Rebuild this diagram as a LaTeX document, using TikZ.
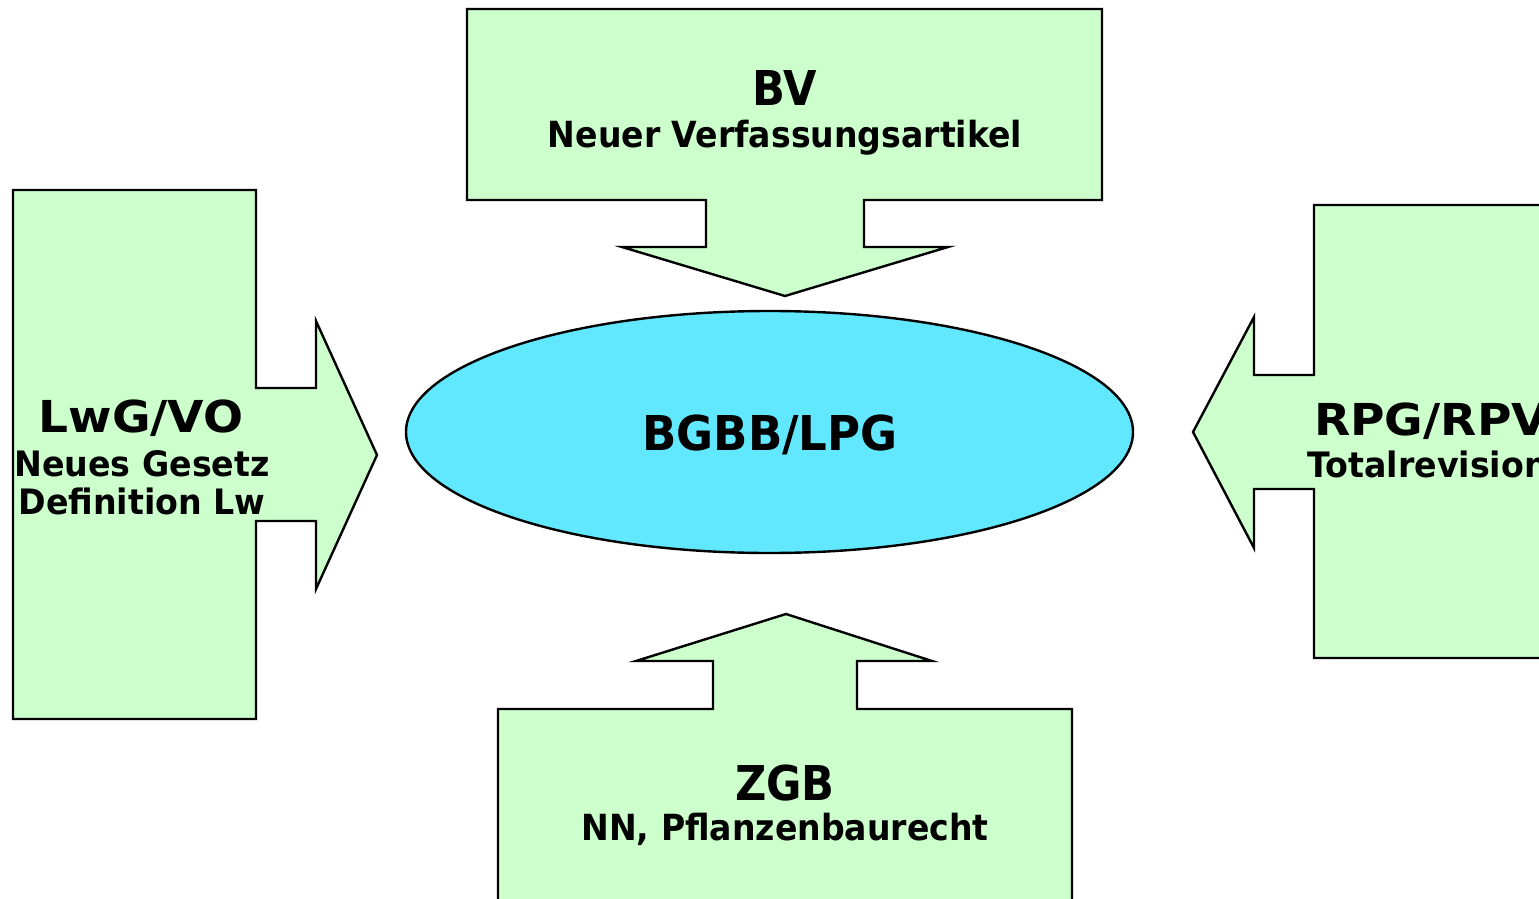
\documentclass[tikz,border=0pt]{standalone}
\usepackage{fontspec}
\setmainfont{DejaVu Sans}
\definecolor{callgreen}{HTML}{CCFFCC}
\definecolor{ellcyan}{HTML}{61E8FF}
\begin{document}
\begin{tikzpicture}[x=1pt,y=-1pt,
  callout/.style={draw=black,fill=callgreen,line width=2.4pt,line join=miter},
  lbl/.style={inner sep=0pt,anchor=base,font=\bfseries}]
\useasboundingbox (0,0) rectangle (1539,899);
% top callout
\draw[callout] (467,9) -- (1102,9) -- (1102,200) -- (864,200) -- (864,247) -- (948,247)
  -- (785,296) -- (622,247) -- (706,247) -- (706,200) -- (467,200) -- cycle;
% left callout
\draw[callout] (13,190) -- (256,190) -- (256,388) -- (316,388) -- (316,321) -- (377,455)
  -- (316,589) -- (316,521) -- (256,521) -- (256,719) -- (13,719) -- cycle;
% right callout
\draw[callout] (1600,205) -- (1314,205) -- (1314,375) -- (1254,375) -- (1254,317) -- (1193,432)
  -- (1254,548) -- (1254,489) -- (1314,489) -- (1314,658) -- (1600,658);
% bottom callout
\draw[callout] (498,960) -- (498,709) -- (713,709) -- (713,661) -- (636,661) -- (786,614)
  -- (932,661) -- (857,661) -- (857,709) -- (1072,709) -- (1072,960);
% ellipse
\draw[fill=ellcyan,line width=2.4pt] (769.5,432) ellipse [x radius=363.5,y radius=121];
% texts
\node[lbl,font=\bfseries\fontsize{48}{48}\selectfont,xscale=0.9] (bv) at (785,105) {BV};
\node[lbl,font=\bfseries\fontsize{36}{36}\selectfont,xscale=0.92] (bvt) at (785,147) {Neuer Verfassungsartikel};
\node[lbl,font=\bfseries\fontsize{44}{44}\selectfont,xscale=1.07] (lwg) at (141,432) {LwG/VO};
\node[lbl,font=\bfseries\fontsize{35}{35}\selectfont,xscale=0.95] (lwg1) at (142,476) {Neues Gesetz};
\node[lbl,font=\bfseries\fontsize{35}{35}\selectfont,xscale=0.95] (lwg2) at (142,514) {Definition Lw};
\node[lbl,anchor=base west,font=\bfseries\fontsize{44}{44}\selectfont,xscale=1.07] (rpg) at (1314,435) {RPG/RPV};
\node[lbl,anchor=base west,font=\bfseries\fontsize{35}{35}\selectfont,xscale=0.95] (rpg1) at (1307,477) {Totalrevision};
\node[lbl,font=\bfseries\fontsize{48}{48}\selectfont,xscale=0.94] (bgbb) at (770,450) {BGBB/LPG};
\node[lbl,font=\bfseries\fontsize{48}{48}\selectfont,xscale=0.9] (zgb) at (785,800) {ZGB};
\node[lbl,font=\bfseries\fontsize{36}{36}\selectfont,xscale=0.92] (zgbt) at (785,840) {NN, Pflanzenbaurecht};
\end{tikzpicture}
\end{document}
